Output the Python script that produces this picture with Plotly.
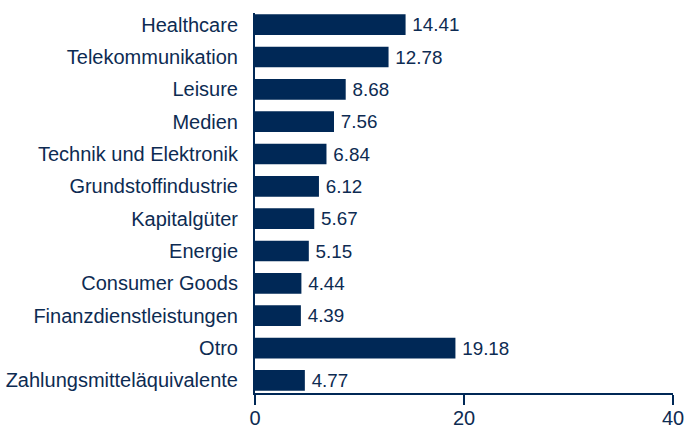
import plotly.graph_objects as go

categories = ["Healthcare", "Telekommunikation", "Leisure", "Medien",
              "Technik und Elektronik", "Grundstoffindustrie", "Kapitalgüter",
              "Energie", "Consumer Goods", "Finanzdienstleistungen", "Otro",
              "Zahlungsmitteläquivalente"]
values = [14.41, 12.78, 8.68, 7.56, 6.84, 6.12, 5.67, 5.15, 4.44, 4.39, 19.18, 4.77]
x_ticks = [0, 20, 40]

bar_color = "#002856"
text_color = "#0d2b52"
FS = 20

cats_r = categories[::-1]
vals_r = values[::-1]

fig = go.Figure(go.Bar(
    x=vals_r, y=cats_r, orientation="h",
    marker=dict(color=bar_color, line=dict(width=0)),
    text=["\u2009" + f"{v:.2f}" for v in vals_r], textposition="outside",
    textfont=dict(color=text_color, size=FS, family="Liberation Sans, Arial"),
    cliponaxis=False, width=0.64, hoverinfo="skip",
))

fig.update_layout(
    width=687, height=429,
    margin=dict(l=255, r=14, t=13, b=36, autoexpand=False),
    paper_bgcolor="white", plot_bgcolor="white",
    font=dict(family="Liberation Sans, Arial", size=FS, color=text_color),
    showlegend=False,
    xaxis=dict(range=[0, 40], tickvals=x_ticks, showgrid=False, zeroline=False,
               automargin=False,
               showline=True, linecolor=bar_color, linewidth=2,
               ticks="outside", ticklen=10, tickwidth=2, tickcolor=bar_color,
               ticklabelstandoff=-4,
               tickfont=dict(size=FS, color=text_color)),
    yaxis=dict(type="category", categoryorder="array", categoryarray=cats_r,
               range=[-0.39, 11.36], showgrid=False, zeroline=False,
               automargin=False,
               showline=True, linecolor=bar_color, linewidth=2, ticks="",
               ticklabelstandoff=11,
               tickfont=dict(size=FS, color=text_color)),
)

fig.write_html("out.html", config={"displayModeBar": False},
               post_script="document.body.style.margin='0';document.body.style.overflow='hidden';")
